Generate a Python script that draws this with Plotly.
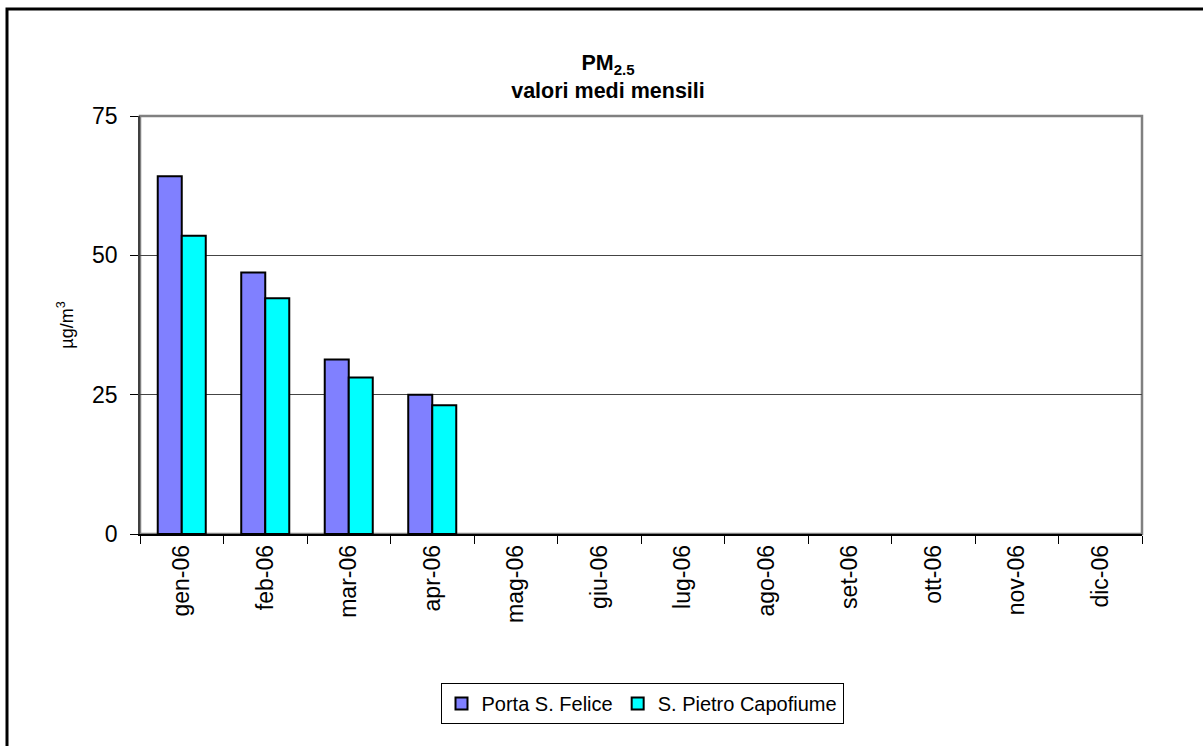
import plotly.graph_objects as go

months = ["gen-06", "feb-06", "mar-06", "apr-06", "mag-06", "giu-06",
          "lug-06", "ago-06", "set-06", "ott-06", "nov-06", "dic-06"]
porta_felice = [64.2, 46.9, 31.3, 25.0, None, None, None, None, None, None, None, None]
pietro_capofiume = [53.5, 42.3, 28.1, 23.1, None, None, None, None, None, None, None, None]
series_names = ["Porta S. Felice", "S. Pietro Capofiume"]
y_ticks = [0, 25, 50, 75]

W, H = 1203, 746
L, R, T, B = 140, 1142, 116, 534

fig = go.Figure()
fig.add_trace(go.Bar(x=months, y=porta_felice, name=series_names[0],
                     marker=dict(color="#8080FF", line=dict(color="black", width=2))))
fig.add_trace(go.Bar(x=months, y=pietro_capofiume, name=series_names[1],
                     marker=dict(color="#00FFFF", line=dict(color="black", width=2))))

def px_x(p):
    return (p - L) / (R - L)

def px_y(p):
    return (B - p) / (B - T)

fig.update_layout(
    width=W, height=H,
    margin=dict(l=L, r=W - R, t=T, b=H - B),
    paper_bgcolor="white", plot_bgcolor="white",
    font=dict(family="Arial, Liberation Sans, sans-serif", color="black"),
    barmode="group", bargap=0.425, bargroupgap=0,
    showlegend=True,
    title=dict(text="<b>PM<sub>2.5</sub><br>valori medi mensili</b>",
               font=dict(size=21.5), x=px_x(608), xref="paper", xanchor="center",
               y=1 - 70 / H, yref="container", yanchor="middle"),
    legend=dict(orientation="h", x=px_x(642), xanchor="center", y=px_y(683), yanchor="top",
                bordercolor="black", borderwidth=1, font=dict(size=20),
                itemwidth=30, itemsizing="constant", traceorder="normal"),
    xaxis=dict(type="category", tickangle=-90, tickfont=dict(size=23),
               showline=True, linecolor="black", linewidth=1.5,
               ticks="outside", ticklen=8, tickcolor="black", tickson="boundaries",
               showgrid=False, zeroline=False),
    yaxis=dict(range=[0, 75], tickvals=y_ticks, tickfont=dict(size=23),
               showline=True, linecolor="#404040", linewidth=1.5,
               ticks="outside", ticklen=8, tickcolor="black", ticklabelstandoff=8,
               showgrid=True, gridcolor="#444444", gridwidth=1, zeroline=False,
               title=dict(text="µg/m<sup>3</sup>", font=dict(size=18), standoff=14)),
)

# plot-area border (gray, top and right)
fig.add_shape(type="rect", xref="paper", yref="paper", x0=0, x1=1, y0=0, y1=1,
              line=dict(color="#808080", width=2.5), layer="below")
# outer chart frame
fig.add_shape(type="rect", xref="paper", yref="paper",
              x0=px_x(7), x1=px_x(1215), y0=px_y(9), y1=px_y(760),
              line=dict(color="black", width=3))

fig.write_html("out.html", config={"displayModeBar": False},
               post_script="document.body.style.margin='0';document.body.style.overflow='hidden';")
